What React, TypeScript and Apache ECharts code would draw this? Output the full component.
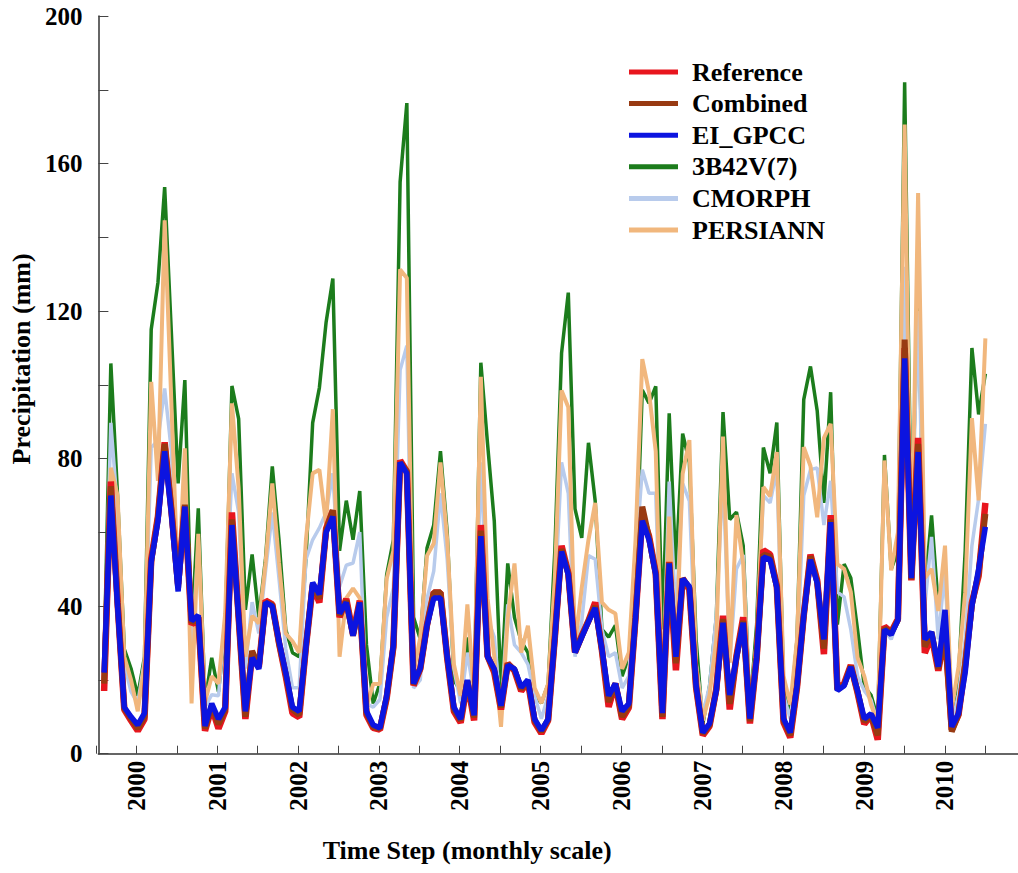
import React, { useEffect, useRef } from 'react';
import * as echarts from 'echarts';

const years = ['2000', '2001', '2002', '2003', '2004', '2005', '2006', '2007', '2008', '2009', '2010'];
const seriesNames = ['Reference', 'Combined', 'EI_GPCC', '3B42V(7)', 'CMORPH', 'PERSIANN'];

const reference = [
  17, 73.8, 41, 12, 9, 6.2, 9.4, 52.7, 64.3, 84.4, 66, 46,
  67, 35, 37, 6.2, 12.5, 6.8, 11.5, 65.4, 37, 9.4, 27, 23.5,
  41.5, 40.5, 30, 21, 11, 9.9, 29, 45.5, 41, 61, 65.9, 37,
  42, 32.5, 41.5, 10.5, 7, 6.5, 15, 29, 79.5, 76.5, 18.5, 23,
  35, 43.7, 43.7, 26, 11.5, 8.4, 19.5, 9, 62, 26.5, 22, 12,
  24.5, 22.5, 17, 19.5, 8.5, 5.5, 9, 31.5, 56.4, 49, 27.5, 32,
  36, 41, 28, 12.7, 19, 9.4, 12.5, 37, 64.5, 59, 49, 9.4,
  52, 22.6, 47.5, 44.5, 18, 5, 7.5, 17.5, 37.4, 12, 26.5, 37,
  8.2, 26, 55.2, 54, 45.5, 8.5, 4.4, 18, 37.5, 54, 47, 27,
  64.7, 17.5, 19, 24, 16.5, 8, 10.5, 3.8, 34.5, 33, 36.5, 110,
  47, 85.6, 27.3, 32, 22.5, 33, 6.5, 10.5, 24, 41, 48.2, 68,
];

const combined = [
  19, 72.5, 41, 12.3, 9.5, 6.8, 10, 52, 64, 84, 66, 45,
  67.5, 35.5, 37, 6.8, 13, 8, 12, 63.5, 37, 10, 27.9, 23.5,
  41, 40.3, 30, 21.5, 12, 10.5, 29, 46, 42, 60.5, 66, 37.5,
  41.5, 32, 41, 11, 7.3, 6.8, 15.3, 29, 79, 76.5, 18.8, 23.1,
  34.8, 43.7, 43.7, 26.2, 12, 9, 19.8, 9.8, 60.5, 26.4, 22.5, 12.5,
  24.3, 22.8, 17.5, 19.8, 9, 6, 9.2, 31.5, 55.5, 48.8, 27.5, 31.8,
  36, 40, 28.2, 14, 19, 10, 13, 37, 67, 58.5, 48.8, 10,
  51.8, 24.5, 47.5, 45, 18.2, 5.4, 7.8, 17.3, 36.5, 13.5, 26.2, 36,
  8.8, 26, 54, 53.5, 45.2, 9, 5, 18.2, 37.5, 53.5, 46.6, 28.5,
  63.5, 17.3, 18.7, 23.8, 16.8, 8.7, 10.6, 5, 34, 32.7, 36.3, 112.3,
  47.3, 84, 29, 33, 23, 32.6, 6, 10.6, 24.3, 40.5, 49, 65,
];

const eiGpcc = [
  22, 70, 40, 12.6, 10, 7.8, 11, 52, 63, 82, 65, 44,
  67, 36, 37.5, 7.5, 13.6, 9.4, 12.6, 62, 37, 11.5, 26, 23,
  41, 40, 30.5, 22, 12.6, 11.5, 29, 46.4, 43.2, 60, 64.3, 38,
  41, 32, 41, 11.5, 7.8, 7, 15.7, 29.5, 79, 76, 19, 23.2,
  34.7, 42.2, 42.2, 26.3, 12.6, 9.4, 20, 10.4, 59, 26.3, 23, 13,
  24, 23, 18, 20, 9.4, 6.3, 9.4, 31.6, 54.8, 48.5, 27.4, 31.6,
  35.8, 39.5, 28.4, 15.7, 19, 11.5, 13.6, 36.9, 63.2, 58, 48.5, 11,
  51.6, 26.3, 47.4, 45.3, 18.4, 5.7, 8.2, 17.1, 35.5, 15.9, 26, 35.5,
  9.5, 26, 53.3, 52.6, 45, 9.5, 5.7, 18.4, 37.4, 52.6, 46.3, 31,
  62.8, 17.1, 18.4, 23.5, 17.1, 9.5, 10.8, 7, 33.6, 32.3, 36.2, 107.2,
  47.6, 81.8, 31, 33, 23.6, 39, 7.3, 10.9, 22, 40, 50.1, 61.5,
];

const trmm3b42 = [
  26, 105.8, 70, 28.4, 23.1, 15.7, 26.3, 115, 127.7, 153.6, 114, 73.3,
  101.3, 33, 66.5, 14, 26, 16.8, 33.7, 99.7, 90.8, 39, 54, 37,
  53, 77.9, 57.9, 33.7, 27.4, 26.3, 52.7, 89.7, 99.2, 117, 128.8, 55,
  68.6, 58, 71.2, 29.5, 13.6, 19, 48.5, 58, 155, 176.4, 37, 31,
  55.8, 62, 82, 60, 20, 16.8, 31.5, 15.7, 106, 84, 63, 17.8,
  51.6, 36.9, 30.5, 27.4, 15.7, 13.7, 18.9, 55, 108.6, 125, 66.4, 58.5,
  84.3, 68.5, 33.7, 31.6, 34.8, 21, 26.3, 47, 98.6, 95, 99.6, 33.7,
  92.3, 50, 86.8, 79, 31, 8, 18.4, 37, 92.6, 63.5, 65.5, 56.4,
  12, 35, 83, 76, 89.8, 18.4, 10.8, 31, 96, 105, 93, 68,
  98, 35, 51.4, 47.6, 33.6, 18.2, 15.9, 9.5, 81, 50, 55, 182,
  60, 125, 44, 64.6, 40, 52, 10.8, 21, 55, 110, 92, 103,
];

const cmorph = [
  24, 89.7, 66, 24.2, 16.8, 13.6, 25.3, 83, 85, 99, 82, 44,
  72, 26, 58, 12.6, 16, 15.7, 37, 76, 65.4, 23.1, 41.1, 32.6,
  49.6, 65.4, 47.4, 28.4, 17.9, 17.9, 52.7, 58, 61.2, 65.4, 76, 45.3,
  51.1, 51.7, 60.1, 13.6, 12.6, 14.7, 36.9, 45, 104, 110.6, 17.8, 20,
  42, 49.5, 70.6, 52.7, 23, 13.7, 27.4, 15.7, 79, 36.8, 31.6, 10.5,
  40.5, 29.5, 27.4, 24.2, 15.7, 9.5, 15.7, 42, 79, 70.6, 26.3, 35.8,
  53.7, 52.7, 33.7, 26.3, 27.4, 17.8, 21, 52.7, 77, 70.6, 70.6, 15.7,
  73.8, 36.8, 73.2, 68.5, 24.7, 10.8, 18.4, 37.4, 75.5, 24.7, 50.1, 53.9,
  12, 31, 70, 68, 77, 15.9, 9.5, 24.7, 70, 77, 77.5, 62,
  74, 43.8, 42.5, 33.6, 21, 17.1, 14.6, 8.2, 33.6, 31, 36.2, 132,
  56.4, 120, 40, 58.8, 31, 50.1, 8.2, 15.9, 31, 56.4, 69.1, 89.4,
];

const persiann = [
  21, 77.5, 70, 26.3, 20, 11.5, 24.2, 100.8, 74, 144.6, 95, 44.3,
  82.8, 13.6, 59.6, 14, 21, 19, 38, 95, 72, 26.3, 37.4, 35.3,
  51.7, 73.3, 51.7, 32.6, 30.5, 27.4, 58, 76, 77, 62.2, 93.4, 26.3,
  42.2, 44.8, 42.2, 12.6, 18.9, 18.9, 47.4, 55, 131.3, 129, 22, 31.6,
  53.7, 57, 79, 58, 24.2, 15.7, 40.5, 15.7, 102.2, 42.1, 26.3, 7.3,
  36.8, 51.6, 27.4, 34.7, 17.8, 13.7, 18.9, 47.4, 98.5, 93.9, 29.5, 45,
  58, 68, 41, 39, 38, 23, 27.4, 58, 107, 98, 82, 15.7,
  64.3, 26.3, 75.9, 85, 24, 9, 15.9, 31, 86, 24.7, 64.7, 51.4,
  9.5, 31, 72.3, 69.8, 81.8, 21, 13.3, 31, 83.1, 78, 64.1, 85.6,
  89.4, 51.4, 50.1, 43.8, 26, 21, 13.3, 8.2, 79.5, 49.7, 60, 170.6,
  47.6, 152, 47.6, 50.1, 38.7, 56.4, 12, 23.5, 43.8, 91, 68.7, 112.6,
];

const colors: Record<string, string> = {
  Reference: '#e8161e',
  Combined: '#983a12',
  EI_GPCC: '#0c14e0',
  '3B42V(7)': '#1c7c1c',
  CMORPH: '#b8cbec',
  PERSIANN: '#f1b77d',
};

const FONT = "'Times New Roman', 'Liberation Serif', serif";

export default function App() {
  const ref = useRef<HTMLDivElement>(null);

  useEffect(() => {
    if (!ref.current) return;
    const chart = echarts.init(ref.current, null, { renderer: 'svg' });
    const pts = (arr: number[]) => arr.map((v, i) => [i + 1, v]);
    const mk = (name: string, arr: number[], width: number, z: number) => ({
      name,
      type: 'line',
      xAxisIndex: 0,
      yAxisIndex: 0,
      data: pts(arr),
      symbol: 'none',
      showSymbol: false,
      z,
      lineStyle: { color: colors[name], width },
      itemStyle: { color: colors[name] },
    });

    chart.setOption({
      animation: false,
      backgroundColor: '#ffffff',
      grid: [
        { left: 97, top: 16, width: 921, height: 737.7 },
        { left: 95.9, top: 16, width: 889.4, height: 737.7 },
      ],
      legend: {
        data: seriesNames.map((n) => ({ name: n, icon: 'rect' })),
        orient: 'vertical',
        left: 629,
        top: 59,
        itemWidth: 49,
        itemHeight: 5,
        itemGap: 5.6,
        padding: 0,
        selectedMode: false,
        textStyle: {
          fontFamily: FONT,
          fontWeight: 'bold',
          fontSize: 26,
          lineHeight: 24,
          color: '#000',
          padding: [0, 0, 0, 9],
        },
      },
      xAxis: [
        {
          type: 'value',
          gridIndex: 0,
          min: 0.15,
          max: 136.85,
          axisLine: { show: true, onZero: false, lineStyle: { color: '#333', width: 1.5 } },
          axisTick: { show: false },
          axisLabel: { show: false },
          splitLine: { show: false },
          name: 'Time Step (monthly scale)',
          nameLocation: 'middle',
          nameGap: 84,
          nameTextStyle: {
            fontFamily: FONT,
            fontWeight: 'bold',
            fontSize: 26,
            color: '#000',
            padding: [0, 182, 0, 0],
          },
        },
        {
          type: 'value',
          gridIndex: 1,
          min: 0,
          max: 132,
          interval: 6,
          axisLine: { show: false },
          axisTick: { show: true, inside: true, length: 8, lineStyle: { color: '#444', width: 1 } },
          axisLabel: {
            rotate: 90,
            margin: 7,
            fontFamily: FONT,
            fontWeight: 'bold',
            fontSize: 25,
            color: '#000',
            formatter: (v: number) => (v % 12 === 6 ? years[(v - 6) / 12] : ''),
          },
          splitLine: { show: false },
        },
      ],
      yAxis: [
        {
          type: 'value',
          gridIndex: 0,
          min: 0,
          max: 200,
          interval: 40,
          axisLine: { show: true, onZero: false, lineStyle: { color: '#333', width: 1.5 } },
          axisTick: { show: true, inside: true, length: 10, lineStyle: { color: '#444', width: 1 } },
          minorTick: { show: true, splitNumber: 2, length: 10, lineStyle: { color: '#444', width: 1 } },
          axisLabel: {
            margin: 16,
            fontFamily: FONT,
            fontWeight: 'bold',
            fontSize: 25,
            color: '#000',
          },
          splitLine: { show: false },
          minorSplitLine: { show: false },
          name: 'Precipitation (mm)',
          nameLocation: 'middle',
          nameGap: 62,
          nameTextStyle: {
            fontFamily: FONT,
            fontWeight: 'bold',
            fontSize: 26,
            color: '#000',
            padding: [0, 0, 0, 52],
          },
        },
        { type: 'value', gridIndex: 1, min: 0, max: 200, show: false },
      ],
      series: [
        mk('3B42V(7)', trmm3b42, 3.5, 2),
        mk('CMORPH', cmorph, 3.5, 3),
        mk('PERSIANN', persiann, 4, 4),
        mk('Reference', reference, 6.5, 5),
        mk('Combined', combined, 6, 6),
        mk('EI_GPCC', eiGpcc, 5.5, 7),
      ],
    });

    return () => chart.dispose();
  }, []);

  return (
    <div
      ref={ref}
      style={{ position: 'fixed', left: 0, top: 0, width: 1018, height: 873, background: '#fff' }}
    />
  );
}
